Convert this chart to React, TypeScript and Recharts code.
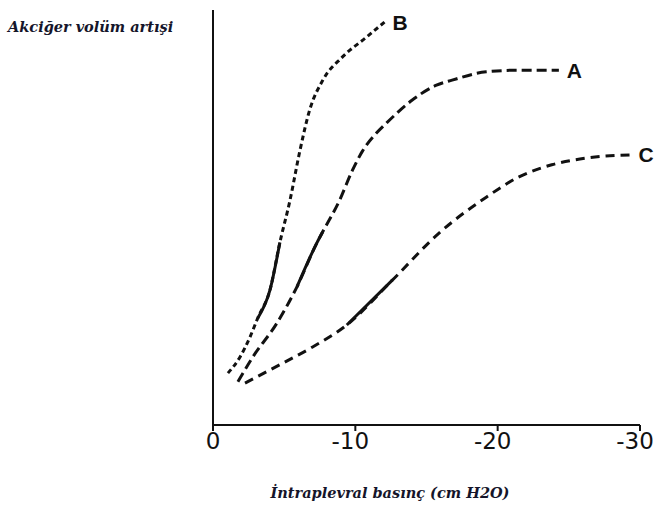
import React from 'react';
import { LineChart, Line, XAxis, YAxis, LabelList, ReferenceLine } from 'recharts';

const xTicks = [0, -10, -20, -30];

const curveBX = [-1.05, -1.9, -2.6, -3.15, -4.0, -4.7, -5.4, -6.1, -6.8, -7.7, -9.1, -10.8, -12.05];
const curveBY = [12.5, 16.4, 21.2, 25.8, 32.5, 44, 54, 66, 76, 83, 88.7, 93.5, 97.1];

const curveAX = [-1.75, -2.8, -4.5, -5.9, -7.3, -7.7, -8.9, -9.8, -10.5, -11.5, -12.2, -14.0, -15.7, -16.8, -19.2, -21.5, -24.3];
const curveAY = [10.4, 16.4, 24.6, 33.3, 43.9, 46.5, 54.2, 61.4, 66.0, 70.4, 72.8, 78.3, 81.9, 83.1, 85.1, 85.5, 85.5];

const curveCX = [-2.25, -4.9, -7.0, -9.4, -12.6, -15.9, -19.2, -21.5, -23.8, -26.2, -29.4];
const curveCY = [10.1, 14.9, 18.8, 24.1, 34.9, 46.3, 54.9, 59.8, 62.7, 64.3, 65.1];

const solidB = [-4.7, -3.15];
const solidA = [-7.7, -5.9];
const solidC = [-12.6, -9.4];

const toPoints = (xs: number[], ys: number[]) => xs.map((x, i) => ({ x, y: ys[i] }));
const inRange = (pts: { x: number; y: number }[], r: number[]) =>
  pts.filter((p) => p.x >= r[0] - 1e-9 && p.x <= r[1] + 1e-9);

const dataB = toPoints(curveBX, curveBY);
const dataA = toPoints(curveAX, curveAY);
const dataC = toPoints(curveCX, curveCY);

const INK = '#111111';
const TITLE = '#15152a';

const endLabel = (name: string, last: number, dx: number) => (props: any) => {
  if (props.index !== last) return null;
  return (
    <text
      x={props.x + dx}
      y={props.y}
      dy="0.36em"
      textAnchor="start"
      fontFamily="Liberation Sans, Arial, sans-serif"
      fontWeight={700}
      fontSize={21}
      fill={INK}
    >
      {name}
    </text>
  );
};

const Tick = (props: any) => {
  const { x, y, payload } = props;
  const v = payload.value as number;
  return (
    <text
      x={x}
      y={y}
      dy="0.71em"
      dx={v === 0 ? 0 : -5}
      textAnchor="middle"
      fontFamily="DejaVu Sans, sans-serif"
      fontSize={23}
      fill={INK}
    >
      {String(v)}
    </text>
  );
};

export default function App() {
  const lineCommon = {
    type: 'monotone' as const,
    dataKey: 'y',
    stroke: INK,
    strokeWidth: 3,
    dot: false,
    activeDot: false,
    isAnimationActive: false,
  };
  return (
    <div style={{ position: 'absolute', left: 0, top: 0, width: 654, height: 506, background: '#fff' }}>
      <LineChart width={654} height={506} margin={{ top: 10, right: 14, bottom: 41, left: 213 }}>
        <XAxis
          type="number"
          dataKey="x"
          domain={[-30, 0]}
          reversed
          ticks={xTicks}
          allowDataOverflow
          height={40}
          axisLine={{ stroke: INK, strokeWidth: 2 }}
          tickLine={{ stroke: INK, strokeWidth: 2 }}
          tickSize={6}
          tick={<Tick />}
        />
        <YAxis type="number" domain={[0, 100]} hide />
        <ReferenceLine x={0} stroke={INK} strokeWidth={2} ifOverflow="extendDomain" />
        <Line {...lineCommon} data={dataB} strokeDasharray="5 3.5">
          <LabelList dataKey="y" content={endLabel('B', dataB.length - 1, 8)} />
        </Line>
        <Line {...lineCommon} data={inRange(dataB, solidB)} />
        <Line {...lineCommon} data={dataA} strokeDasharray="10 5">
          <LabelList dataKey="y" content={endLabel('A', dataA.length - 1, 8)} />
        </Line>
        <Line {...lineCommon} data={inRange(dataA, solidA)} />
        <Line {...lineCommon} data={dataC} strokeDasharray="9 6">
          <LabelList dataKey="y" content={endLabel('C', dataC.length - 1, 7)} />
        </Line>
        <Line {...lineCommon} data={inRange(dataC, solidC)} />
      </LineChart>
      <svg
        width={654}
        height={506}
        style={{ position: 'absolute', left: 0, top: 0, pointerEvents: 'none' }}
      >
        <text
          x={8}
          y={32}
          fontFamily="DejaVu Serif, serif"
          fontStyle="italic"
          fontWeight={700}
          fontSize={14.5}
          fill={TITLE}
        >
          Akciğer volüm artışi
        </text>
        <text
          x={390}
          y={498}
          textAnchor="middle"
          fontFamily="DejaVu Serif, serif"
          fontStyle="italic"
          fontWeight={700}
          fontSize={14.5}
          fill={TITLE}
        >
          İntraplevral basınç (cm H2O)
        </text>
      </svg>
    </div>
  );
}
